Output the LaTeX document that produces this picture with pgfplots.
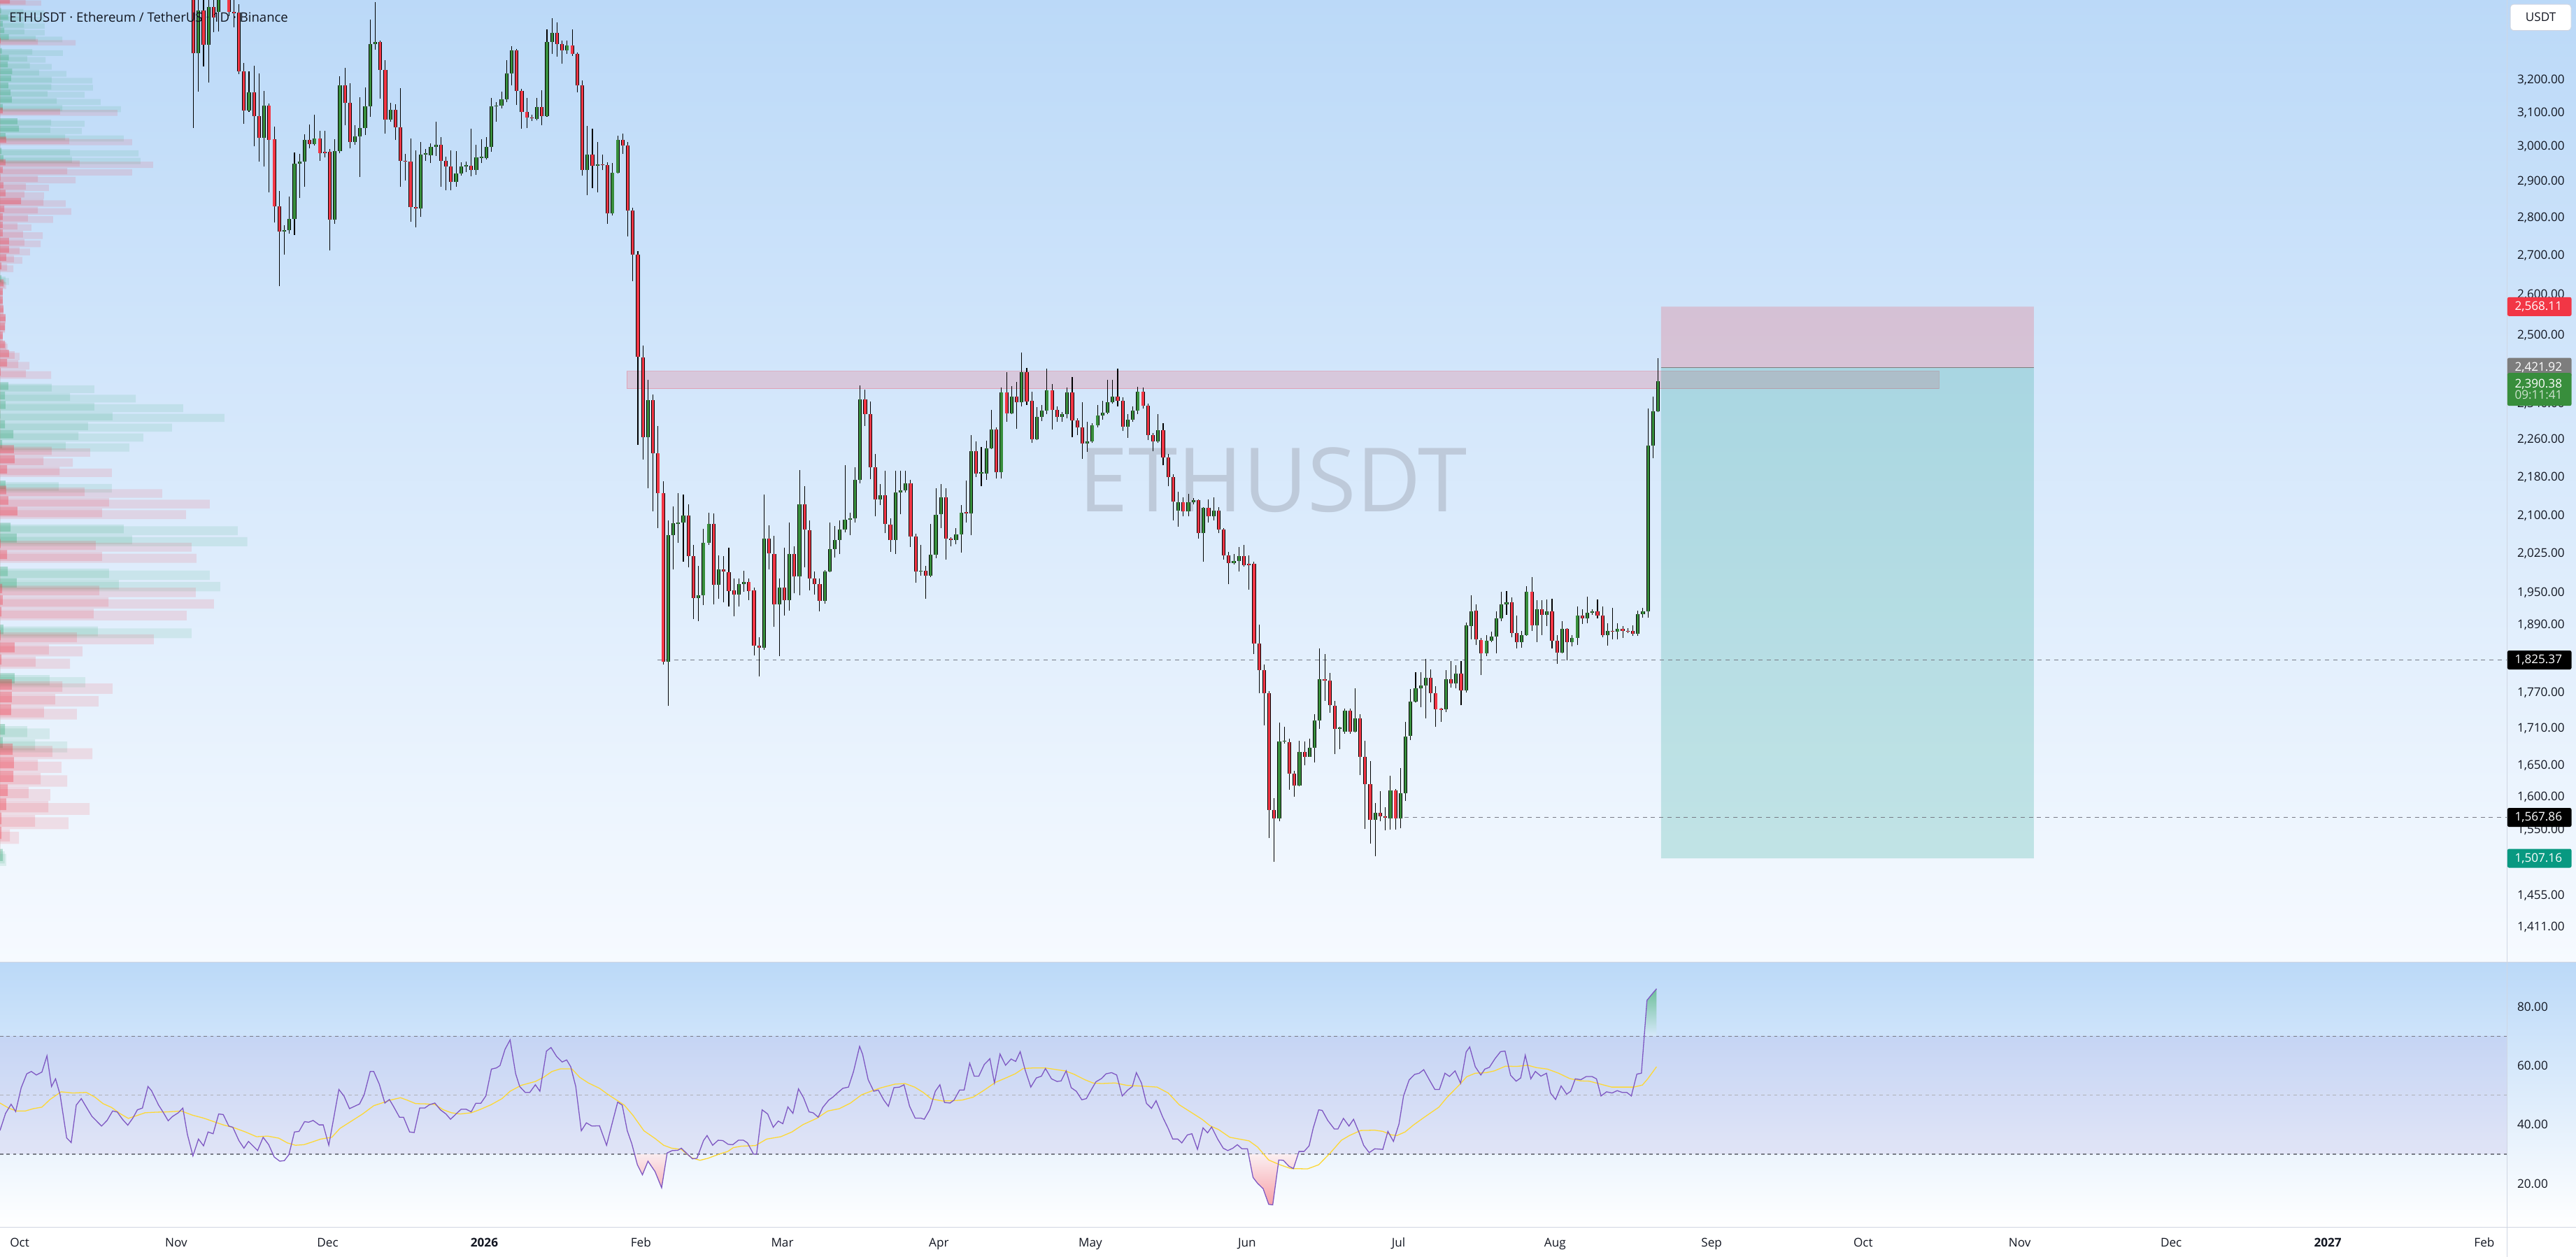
\documentclass[border=0pt]{standalone}
\usepackage{fontspec}
\setmainfont{Open Sans}
\usepackage{pgfplots}
\usepackage{pgfplotstable}
\pgfplotsset{compat=1.18}

\definecolor{tvred}{RGB}{242,54,69}
\definecolor{tvgreen}{RGB}{56,142,60}
\definecolor{tvteal}{RGB}{8,153,129}
\definecolor{vpgreen}{RGB}{60,170,120}
\definecolor{tvpurple}{RGB}{126,87,194}
\definecolor{tvyellow}{RGB}{253,216,53}
\definecolor{tvgrey}{RGB}{120,123,134}
\definecolor{tvtext}{RGB}{19,23,34}
\definecolor{bgtop}{RGB}{187,217,248}
\definecolor{bgbot}{RGB}{246,250,255}
\definecolor{sepline}{RGB}{208,214,226}
\definecolor{wmk}{RGB}{190,202,218}
\definecolor{entrygrey}{RGB}{125,125,125}

\newcommand\lbl{\fontsize{7.3}{8.5}\selectfont}

% candles: day (0 = 1 Oct 2025), open, high, low, close
\pgfplotstableread{
d o h l c
35 3280 3460 3161 3418
37 3308 3460 3189 3430
39 3414 3520 3351 3480
45 3105 3223 3100 3160
48 3023 3163 2940 3118
52 2761 2779 2700 2765
53 2765 2856 2755 2796
54 2796 2981 2753 2948
55 2948 2977 2853 2955
56 2955 3034 2884 3017
58 3005 3092 3000 3021
62 2793 3020 2782 2985
63 2985 3208 2978 3181
66 3012 3060 3003 3028
67 3028 3144 2911 3051
68 3051 3173 3032 3117
69 3117 3389 3085 3310
70 3310 3446 3291 3317
73 3076 3128 3070 3106
79 2823 3011 2800 2975
80 2975 2990 2957 2979
81 2973 3007 2950 2997
82 2997 3071 2971 3003
86 2897 2985 2884 2921
87 2921 2953 2915 2941
88 2940 2955 2925 2944
90 2931 3002 2917 2966
91 2964 3020 2950 2968
92 2964 3025 2960 2996
93 2996 3142 2983 3117
94 3116 3130 3070 3119
95 3119 3161 3111 3138
96 3138 3258 3130 3218
97 3218 3303 3180 3290
102 3079 3142 3075 3115
104 3087 3358 3085 3317
105 3317 3393 3278 3346
108 3290 3320 3278 3305
112 2931 3059 2860 2974
114 2943 3010 2868 2947
117 2811 2950 2805 2923
118 2923 3030 2920 3017
124 2264 2393 2155 2346
128 1823 2089 1746 2059
129 2059 2118 1992 2083
130 2082 2145 2044 2085
131 2085 2142 2007 2099
134 1938 2000 1896 1944
135 1944 2073 1925 2044
136 2044 2104 2040 2082
138 1963 2020 1937 1993
142 1945 1975 1922 1965
143 1965 1990 1950 1968
147 1848 2142 1844 2053
150 1926 1975 1833 1958
152 1935 2085 1915 2023
154 1979 2193 1944 2122
159 1933 1991 1927 1989
160 1989 2085 1987 2032
161 2032 2078 2015 2050
162 2050 2089 2022 2070
163 2070 2204 2065 2090
164 2090 2104 2059 2093
165 2093 2199 2085 2173
166 2173 2380 2165 2348
170 2132 2163 2120 2141
173 2050 2192 2022 2146
174 2146 2192 2101 2151
175 2151 2192 2146 2165
178 1988 2041 1980 1990
180 1981 2082 1978 2021
181 2021 2155 2014 2101
182 2101 2163 2074 2136
185 2050 2074 2041 2061
186 2061 2120 2025 2105
188 2103 2269 2059 2234
190 2186 2243 2159 2188
191 2186 2256 2173 2240
192 2240 2324 2238 2281
194 2188 2375 2175 2364
196 2317 2379 2315 2354
198 2341 2456 2332 2410
201 2260 2330 2257 2309
202 2309 2336 2300 2322
203 2322 2419 2315 2368
206 2309 2319 2298 2315
207 2315 2375 2306 2364
211 2250 2298 2232 2254
212 2254 2294 2251 2290
213 2290 2336 2286 2311
214 2311 2344 2302 2318
215 2318 2393 2315 2341
216 2341 2393 2338 2354
219 2287 2315 2263 2303
220 2303 2332 2298 2322
221 2322 2377 2315 2366
225 2254 2315 2251 2279
229 2109 2148 2076 2126
231 2107 2143 2097 2126
232 2126 2134 2122 2130
234 2063 2116 2007 2114
236 2097 2136 2089 2109
240 2005 2022 2002 2009
241 2009 2037 1989 2018
249 1566 1718 1562 1687
250 1687 1711 1684 1689
253 1617 1689 1616 1670
255 1663 1692 1662 1677
256 1677 1733 1654 1722
257 1722 1846 1708 1792
261 1708 1711 1675 1710
262 1703 1742 1700 1738
264 1703 1776 1702 1725
268 1564 1590 1510 1575
271 1567 1633 1550 1609
273 1567 1645 1552 1605
274 1605 1720 1593 1696
275 1696 1775 1690 1754
276 1754 1804 1752 1776
277 1776 1804 1744 1781
278 1781 1828 1726 1794
282 1741 1808 1736 1792
284 1784 1817 1776 1802
286 1773 1893 1769 1887
287 1887 1943 1862 1914
290 1837 1870 1833 1860
291 1860 1876 1858 1867
292 1867 1914 1838 1900
293 1900 1950 1895 1926
294 1926 1952 1907 1930
297 1857 1878 1848 1870
298 1870 1961 1869 1950
300 1888 1935 1858 1917
302 1907 1935 1887 1914
305 1839 1895 1838 1881
307 1857 1870 1850 1865
308 1865 1923 1852 1906
310 1900 1941 1892 1911
311 1911 1917 1907 1913
314 1870 1892 1851 1878
316 1876 1892 1863 1881
320 1872 1915 1868 1908
321 1908 1920 1902 1914
322 1914 2328 1902 2246
323 2246 2355 2218 2321
324 2321 2443 2319 2390.38
}\upC

\pgfplotstableread{
d o h l c
34 3500 3550 3052 3280
36 3418 3460 3239 3308
38 3430 3470 3349 3395
41 3500 3540 3400 3414
42 3414 3470 3363 3410
43 3412 3440 3215 3224
44 3224 3250 3064 3105
46 3160 3242 2998 3087
47 3087 3217 2955 3023
49 3118 3125 2868 3018
50 3018 3055 2785 2829
51 2829 2872 2619 2761
57 3017 3063 2993 3005
59 3021 3043 2957 2979
60 2983 3043 2967 2979
61 2982 2990 2712 2793
64 3181 3234 3060 3127
65 3127 3186 2992 3012
71 3317 3320 3140 3229
72 3229 3258 3036 3076
74 3106 3122 3016 3054
75 3054 3172 2883 2957
76 2957 2977 2900 2954
77 2955 3021 2787 2827
78 2827 2986 2773 2823
83 3003 3025 2884 2957
84 2957 2969 2874 2941
85 2941 2986 2874 2897
89 2942 3050 2913 2931
98 3290 3295 3120 3163
99 3163 3170 3050 3099
100 3099 3142 3051 3082
101 3083 3092 3073 3080
103 3115 3165 3060 3087
106 3346 3380 3270 3310
107 3310 3322 3247 3290
109 3305 3358 3272 3278
110 3278 3282 3159 3181
111 3181 3195 2914 2931
113 2974 3050 2880 2943
115 2946 2974 2930 2944
116 2944 2953 2782 2811
119 3017 3035 2977 3001
120 3001 3010 2749 2817
121 2817 2825 2632 2701
122 2701 2710 2247 2446
123 2446 2474 2216 2264
125 2346 2360 2108 2229
126 2229 2289 2074 2145
127 2145 2170 1818 1823
132 2099 2122 1997 2018
133 2018 2040 1899 1938
137 2082 2104 1926 1963
139 1993 2018 1930 1988
140 1987 2035 1922 1952
141 1952 1975 1904 1945
144 1968 1975 1935 1952
145 1953 1958 1834 1851
146 1851 1866 1797 1848
148 2053 2080 1992 2023
149 2023 2059 1885 1926
151 1958 2035 1906 1935
153 2023 2037 1947 1979
155 2122 2159 1997 2070
156 2070 2089 1953 1975
157 1975 1989 1945 1965
158 1965 1975 1914 1933
167 2348 2370 2289 2315
168 2315 2344 2174 2199
169 2199 2228 2097 2132
171 2141 2192 2063 2082
172 2080 2093 2026 2050
176 2165 2173 2036 2057
177 2057 2063 1967 1988
179 1990 2000 1937 1981
183 2136 2155 2011 2053
184 2053 2056 2037 2050
187 2106 2171 2085 2103
189 2234 2254 2178 2186
193 2281 2286 2175 2188
195 2364 2410 2298 2317
197 2354 2388 2283 2341
199 2410 2421 2336 2344
200 2345 2366 2251 2260
204 2368 2384 2281 2325
205 2325 2332 2297 2309
208 2364 2400 2264 2301
209 2301 2306 2269 2285
210 2285 2341 2217 2250
217 2354 2419 2332 2345
218 2345 2353 2277 2287
222 2366 2375 2327 2334
223 2334 2338 2257 2269
224 2269 2273 2233 2254
226 2279 2294 2204 2220
227 2220 2228 2159 2178
228 2178 2184 2089 2127
230 2126 2136 2097 2107
233 2130 2132 2053 2063
235 2114 2132 2085 2097
237 2109 2116 2063 2070
238 2070 2074 2011 2020
239 2020 2026 1964 2005
242 2018 2041 1998 2001
243 2003 2019 1954 2000
244 2003 2008 1836 1855
245 1855 1889 1768 1808
246 1808 1817 1714 1768
247 1768 1771 1537 1579
248 1579 1598 1502 1566
251 1686 1692 1611 1636
252 1636 1640 1600 1617
254 1670 1687 1649 1663
258 1792 1836 1755 1789
259 1789 1803 1735 1747
260 1747 1755 1667 1708
263 1738 1742 1700 1703
265 1725 1733 1633 1663
266 1663 1688 1551 1619
267 1619 1656 1529 1564
269 1575 1608 1562 1570
270 1570 1584 1549 1568
272 1609 1612 1550 1567
279 1794 1809 1752 1768
280 1768 1780 1711 1741
281 1742 1743 1720 1740
283 1792 1824 1778 1784
285 1802 1824 1747 1773
288 1914 1926 1852 1862
289 1861 1865 1799 1837
295 1930 1940 1866 1874
296 1874 1906 1846 1857
299 1950 1978 1878 1888
301 1917 1935 1870 1907
303 1914 1937 1846 1860
304 1860 1870 1819 1839
306 1881 1883 1825 1857
309 1906 1917 1890 1900
312 1913 1935 1900 1906
313 1906 1923 1866 1870
315 1878 1920 1863 1876
317 1881 1887 1865 1878
318 1878 1883 1874 1876
319 1878 1887 1868 1872
}\downC

% visible range volume profile: row lower bound, green row?, three segment lengths (pt)
\pgfplotstableread{
p g a b c
1503.2 1 1.7 2.8 3.8
1524.8 0 0.9 6.0 11.5
1546.5 0 0.9 21.3 41.7
1568.2 0 3.8 29.4 54.5
1589.8 0 4.7 17.4 30.6
1611.5 0 8.1 24.7 40.9
1633.2 0 8.5 23.0 37.4
1654.8 0 7.7 31.9 56.2
1676.5 1 1.7 21.3 40.9
1698.1 1 3.0 16.6 30.2
1719.8 0 6.8 26.8 46.8
1741.5 0 7.2 33.6 60.0
1763.1 0 7.2 37.9 68.5
1784.8 1 8.9 30.2 51.9
1806.4 0 0.9 21.7 42.6
1828.1 0 8.9 29.8 50.2
1849.8 0 0.4 46.8 93.6
1871.4 1 2.1 59.6 116.6
1893.1 0 0.9 57.0 113.6
1914.7 0 1.7 66.0 130.2
1936.4 0 1.3 60.4 119.1
1958.1 1 10.2 72.3 134.0
1979.7 1 4.7 66.4 127.7
2001.4 0 4.3 62.1 119.6
2023.0 0 0.4 58.3 116.6
2044.7 1 10.2 80.4 150.6
2066.4 1 6.4 75.3 144.7
2088.0 0 10.6 62.1 113.2
2109.7 0 5.1 66.4 127.7
2131.3 0 3.8 51.5 98.7
2153.0 1 3.4 35.7 68.1
2174.7 0 4.3 36.2 68.1
2196.3 0 8.9 26.4 44.3
2218.0 0 8.5 31.5 54.9
2239.6 1 1.3 40.0 78.7
2261.3 1 8.1 47.7 87.2
2283.0 1 3.0 53.6 104.7
2304.6 1 0.3 68.5 136.6
2326.3 1 3.4 57.4 111.5
2347.9 1 3.0 42.6 82.6
2369.6 1 5.1 31.5 57.4
2391.3 0 0.4 15.7 31.1
2412.9 0 4.3 11.1 17.9
2434.6 0 5.5 8.9 11.9
2456.2 0 3.0 3.8 4.7
2477.9 0 1.7 1.7 1.7
2499.6 0 3.0 3.0 3.0
2521.2 0 3.4 3.4 3.4
2542.9 0 2.1 2.1 2.1
2564.5 0 1.7 1.7 1.7
2586.2 0 1.7 1.7 1.7
2607.9 0 2.1 2.8 3.8
2629.5 1 0.9 3.4 5.5
2651.2 0 0.9 4.3 8.1
2672.8 0 3.8 8.5 13.6
2694.5 0 5.5 11.9 18.3
2716.2 0 5.5 14.9 24.7
2737.8 0 1.7 14.0 26.0
2759.5 0 1.7 10.6 19.1
2781.1 0 1.7 17.0 32.3
2802.8 0 2.6 23.0 43.4
2824.5 0 12.8 26.4 40.0
2846.1 0 3.4 14.9 26.8
2867.8 0 2.1 15.7 29.8
2889.4 0 0.3 23.0 46.0
2911.1 0 1.7 40.9 80.4
2932.8 0 3.4 48.5 93.2
2954.4 1 2.1 43.8 85.5
2976.1 1 0.9 42.6 84.3
2997.7 0 3.8 42.1 80.4
3019.4 1 3.4 39.6 75.3
3041.1 1 11.5 30.6 49.8
3062.7 1 10.6 31.1 51.5
3084.4 0 1.7 36.6 71.5
3106.0 1 1.7 37.9 73.6
3127.7 1 7.2 34.5 61.3
3149.4 1 6.4 28.9 51.5
3171.0 1 5.1 31.2 56.6
3192.7 1 6.8 31.5 56.2
3214.3 1 7.4 23.8 40.4
3236.0 1 4.7 18.2 31.5
3257.7 1 5.4 16.6 27.7
3279.3 1 1.1 19.6 38.3
3301.0 0 0.4 23.0 46.0
3322.6 1 5.4 21.7 37.9
3344.3 1 2.6 14.9 27.2
3366.0 1 1.7 14.6 27.2
3387.6 1 5.0 14.2 27.0
3409.3 1 0.7 14.2 27.0
3430.9 0 6.0 15.6 25.1
3452.6 0 0 0 0
}\vprof

% drawn rectangles on the price pane: day, price
\pgfplotstableread{
x p
119.8 2372
379.6 2372
379.6 2413
119.8 2413
119.8 2372
}\zone
\pgfplotstableread{
x p
324.6 2421.92
398.4 2421.92
398.4 2568.11
324.6 2568.11
324.6 2421.92
}\stopbox
\pgfplotstableread{
x p
324.6 1507.16
398.4 1507.16
398.4 2421.92
324.6 2421.92
324.6 1507.16
}\targetbox

\begin{document}
\begin{tikzpicture}[x=1pt,y=1pt]
\shade[top color=bgtop, bottom color=bgbot] (0,179.5) rectangle (1568,765);
\shade[top color=bgtop, bottom color=white] (0,18) rectangle (1568,179.5);
\fill[white] (0,0) rectangle (1568,18);
\node[text=wmk, font=\fontsize{54}{54}\selectfont] at (775,473) {ETHUSDT};

% volume profile (price axis in log space: ln 1364.6 .. ln 3453.5)
\begin{axis}[at={(0pt,180pt)}, anchor=south west, scale only axis,
  width=1526pt, height=585pt, xmin=0, xmax=1526,
  ymin=7.21861, ymax=8.14714, hide axis,
  xbar interval, /pgf/bar interval width=0.82, enlargelimits=false]
  \addplot[draw=none, fill=vpgreen, fill opacity=0.125] table[x expr=\thisrow{c}*\thisrow{g}, y expr=ln(\thisrow{p})] {\vprof};
  \addplot[draw=none, fill=vpgreen, fill opacity=0.15] table[x expr=\thisrow{b}*\thisrow{g}, y expr=ln(\thisrow{p})] {\vprof};
  \addplot[draw=none, fill=vpgreen, fill opacity=0.34] table[x expr=\thisrow{a}*\thisrow{g}, y expr=ln(\thisrow{p})] {\vprof};
  \addplot[draw=none, fill=tvred, fill opacity=0.125] table[x expr=\thisrow{c}*(1-\thisrow{g}), y expr=ln(\thisrow{p})] {\vprof};
  \addplot[draw=none, fill=tvred, fill opacity=0.15] table[x expr=\thisrow{b}*(1-\thisrow{g}), y expr=ln(\thisrow{p})] {\vprof};
  \addplot[draw=none, fill=tvred, fill opacity=0.34] table[x expr=\thisrow{a}*(1-\thisrow{g}), y expr=ln(\thisrow{p})] {\vprof};
\end{axis}

% price pane (log price: ticks at ln of the labelled prices)
\begin{axis}[at={(0pt,180pt)}, anchor=south west, scale only axis,
  width=1526pt, height=585pt, xmin=-4.3, xmax=492.1,
  ymin=7.21861, ymax=8.14714,
  axis line style={draw=none}, major tick length=0pt,
  xtick=\empty,
  ytick={7.252053,7.282760,7.346010,7.377759,7.408530,7.444248,7.478735,7.544332,7.575584,7.613325,7.649692,7.687080,7.723120,7.757906,7.824046,7.863266,7.901007,7.937374,7.972466,8.006368,8.039157,8.070906},
  yticklabels={{1,411.00},{1,455.00},{1,550.00},{1,600.00},{1,650.00},{1,710.00},{1,770.00},{1,890.00},{1,950.00},{2,025.00},{2,100.00},{2,180.00},{2,260.00},{2,340.00},{2,500.00},{2,600.00},{2,700.00},{2,800.00},{2,900.00},{3,000.00},{3,100.00},{3,200.00}},
  yticklabel pos=right,
  yticklabel style={anchor=mid west, inner sep=0pt, xshift=6pt, font=\lbl, text=tvtext}]
  % resistance zone
  \addplot[fill=tvred, fill opacity=0.17, draw=tvred, draw opacity=0.25, line width=0.4pt]
    table[x=x, y expr=ln(\thisrow{p})] {\zone};
  % short position: stop and target
  \addplot[fill=tvred, fill opacity=0.2, draw=none] table[x=x, y expr=ln(\thisrow{p})] {\stopbox};
  \addplot[fill=tvteal, fill opacity=0.2, draw=none] table[x=x, y expr=ln(\thisrow{p})] {\targetbox};
  \addplot[entrygrey, line width=0.5pt] table[row sep=\\, x=x, y expr=ln(\thisrow{p})] {x p\\ 324.6 2421.92\\ 398.4 2421.92\\};
  % levels
  \addplot[tvgrey, line width=0.5pt, dash pattern=on 2.5pt off 2.5pt] table[row sep=\\, x=x, y expr=ln(\thisrow{p})] {x p\\ 125.9 1825.37\\ 492.1 1825.37\\};
  \addplot[tvgrey, line width=0.5pt, dash pattern=on 2.5pt off 2.5pt] table[row sep=\\, x=x, y expr=ln(\thisrow{p})] {x p\\ 273.8 1567.86\\ 492.1 1567.86\\};
  % wicks
  \addplot[draw=none, mark=none, error bars/.cd, y dir=plus, y explicit, error mark=none,
    error bar style={draw=black, line width=0.45pt}]
    table[x=d, y expr=ln(\thisrow{l}), y error expr=ln(\thisrow{h}/\thisrow{l})] {\upC};
  \addplot[draw=none, mark=none, error bars/.cd, y dir=plus, y explicit, error mark=none,
    error bar style={draw=black, line width=0.45pt}]
    table[x=d, y expr=ln(\thisrow{l}), y error expr=ln(\thisrow{h}/\thisrow{l})] {\downC};
  % bodies
  \addplot[draw=none, mark=none, error bars/.cd, y dir=plus, y explicit, error mark=none,
    error bar style={draw=black, line width=2.2pt}]
    table[x=d, y expr=ln(\thisrow{o}), y error expr=ln(\thisrow{c}/\thisrow{o})] {\upC};
  \addplot[draw=none, mark=none, error bars/.cd, y dir=plus, y explicit, error mark=none,
    error bar style={draw=tvgreen, line width=1.4pt}]
    table[x=d, y expr=ln(\thisrow{o}), y error expr=ln(\thisrow{c}/\thisrow{o})] {\upC};
  \addplot[draw=none, mark=none, error bars/.cd, y dir=plus, y explicit, error mark=none,
    error bar style={draw=black, line width=2.2pt}]
    table[x=d, y expr=ln(\thisrow{c}), y error expr=ln(\thisrow{o}/\thisrow{c})] {\downC};
  \addplot[draw=none, mark=none, error bars/.cd, y dir=plus, y explicit, error mark=none,
    error bar style={draw=tvred, line width=1.4pt}]
    table[x=d, y expr=ln(\thisrow{c}), y error expr=ln(\thisrow{o}/\thisrow{c})] {\downC};
  % anchors for the price tags (ln of 2568.11, 2421.92, 2390.38, 1825.37, 1567.86, 1507.16)
  \coordinate (pSL) at (axis cs:492.1,7.850925);
  \coordinate (pEN) at (axis cs:492.1,7.792316);
  \coordinate (pLC) at (axis cs:492.1,7.779208);
  \coordinate (pL1) at (axis cs:492.1,7.509538);
  \coordinate (pL2) at (axis cs:492.1,7.357467);
  \coordinate (pTP) at (axis cs:492.1,7.317982);
\end{axis}

% RSI pane
\begin{axis}[at={(0pt,18pt)}, anchor=south west, scale only axis,
  width=1526pt, height=161pt, xmin=-4.3, xmax=492.1, ymin=5.2, ymax=94.8,
  axis line style={draw=none}, major tick length=0pt,
  ytick={20,40,60,80}, yticklabels={20.00,40.00,60.00,80.00},
  yticklabel pos=right,
  yticklabel style={anchor=mid west, inner sep=0pt, xshift=6pt, font=\lbl, text=tvtext},
  xtick={-0.4,30.6,60.6,91.6,122.6,150.6,181.6,211.6,242.6,272.6,303.6,334.6,364.6,395.6,425.6,456.6,487.6},
  xticklabels={Oct,Nov,Dec,\textbf{2026},Feb,Mar,Apr,May,Jun,Jul,Aug,Sep,Oct,Nov,Dec,\textbf{2027},Feb},
  xticklabel style={anchor=base, inner sep=0pt, yshift=-11.8pt, font=\lbl, text=tvtext}]
  \addplot[fill=tvpurple, fill opacity=0.1, draw=none]
    coordinates {(-4.3,30) (492.1,30) (492.1,70) (-4.3,70) (-4.3,30)};
  \addplot[tvgrey, line width=0.5pt, dash pattern=on 2pt off 2pt] coordinates {(-4.3,70) (492.1,70)};
  \addplot[tvgrey!60, line width=0.5pt, dash pattern=on 2pt off 2pt] coordinates {(-4.3,50) (492.1,50)};
  \addplot[tvgrey, line width=0.5pt, dash pattern=on 2pt off 2pt] coordinates {(-4.3,30) (492.1,30)};
  % oversold / overbought fills
  \addplot[draw=none, top color=white!90!tvred, bottom color=white!55!tvred, opacity=0.8]
    coordinates {(121.3,30) (121.9,26.4) (122.9,23.0) (124.0,27.6) (125.4,24.1) (126.7,18.6) (127.7,30) (121.3,30)};
  \addplot[draw=none, top color=white!92!tvred, bottom color=white!45!tvred, opacity=0.85]
    coordinates {(242.9,30) (243.8,22.1) (244.7,20.1) (245.8,18.3) (246.9,13.0) (247.7,12.8) (248.9,28.0) (249.8,27.9) (250.9,25.9) (251.8,25.1) (252.8,30) (242.9,30)};
  \addplot[draw=none, top color=vpgreen!75, bottom color=bgtop!60!white]
    coordinates {(321.3,70) (321.8,82.1) (322.9,84.4) (323.7,86.0) (323.7,70) (321.3,70)};
  % RSI-based moving average
  \addplot[tvyellow, line width=0.55pt] coordinates {
    (-4.3,47.3) (-2.6,45.6) (-1.0,44.6) (0.7,44.6) (2.3,45.4) (4.0,45.9) (5.6,48.5) (7.8,51.1)
    (10.1,50.7) (12.8,50.9) (14.5,49.3) (16.1,47.1) (17.8,45.8) (19.4,43.8) (21.1,42.1) (22.7,43.0)
    (24.4,44.0) (26.6,44.2) (28.8,44.3) (31.6,44.6) (33.8,43.2) (36.0,42.2) (38.2,40.9) (39.9,39.9)
    (42.1,38.9) (44.3,37.5) (46.5,35.9) (48.7,36.1) (50.9,35.4) (52.6,33.8) (54.2,33.0) (55.9,33.2)
    (57.5,34.1) (59.2,35.1) (61.4,35.7) (63.0,38.7) (65.3,41.2) (67.5,43.6) (69.7,46.4) (71.3,47.3)
    (73.0,48.3) (75.0,49.1) (76.3,48.3) (78.0,47.1) (80.2,47.0) (81.8,46.8) (83.5,45.0) (85.1,44.0)
    (86.8,43.6) (89.0,44.0) (90.6,45.0) (92.9,46.7) (95.1,48.8) (96.7,51.3) (98.9,53.3) (101.7,54.6)
    (103.3,56.0) (105.0,58.0) (106.7,58.9) (108.9,58.9) (110.5,56.0) (112.2,54.1) (114.4,52.3)
    (116.0,50.3) (117.7,48.4) (119.3,46.6) (121.0,43.2) (123.2,37.9) (125.4,35.3) (127.1,33.0)
    (128.7,32.0) (130.6,31.6) (132.6,28.8) (134.3,27.9) (135.9,28.6) (138.1,30.0) (139.8,30.9)
    (140.9,32.2) (142.5,32.7) (145.3,32.9) (147.5,35.1) (150.3,35.9) (152.5,37.5) (154.7,40.0)
    (157.4,42.1) (159.6,44.6) (161.9,45.4) (164.1,47.3) (166.3,50.1) (168.8,51.7) (170.2,52.5)
    (172.9,53.7) (174.9,53.9) (176.8,52.7) (178.5,50.9) (180.1,48.7) (182.3,48.0) (184.5,48.1)
    (186.2,48.3) (188.4,49.3) (190.6,51.7) (192.8,54.3) (195.0,55.9) (196.7,57.2) (198.3,59.0)
    (200.5,59.2) (202.7,59.2) (204.9,58.6) (206.6,58.2) (208.3,57.1) (210.5,55.2) (212.1,54.1)
    (213.8,53.9) (216.5,54.1) (218.8,53.3) (222.1,53.0) (224.8,52.7) (227.0,50.7) (229.2,46.7)
    (231.5,44.2) (233.7,41.8) (235.3,39.6) (237.0,38.3) (239.2,35.7) (241.4,35.0) (243.0,34.5)
    (244.7,32.4) (246.9,28.0) (249.1,26.4) (251.3,25.1) (254.6,25.0) (256.8,26.4) (259.1,30.4)
    (261.3,34.7) (262.9,36.3) (265.1,38.0) (267.9,38.1) (269.5,37.7) (271.2,36.5) (272.3,36.3)
    (273.9,37.5) (275.6,39.9) (277.8,42.6) (280.6,45.9) (282.2,49.2) (284.4,53.0) (286.1,56.2)
    (287.8,57.4) (290.0,57.6) (291.6,58.2) (293.8,59.8) (296.0,59.7) (298.2,60.1) (299.9,59.3)
    (302.1,58.8) (304.3,57.4) (306.5,55.6) (308.7,54.8) (310.4,54.7) (312.6,53.7) (314.8,52.7)
    (317.6,52.7) (319.2,52.7) (320.9,53.4) (322.0,55.6) (323.7,59.6)};
  % RSI
  \addplot[tvpurple, line width=0.55pt] coordinates {
    (-4.3,38.0) (-3.2,43.8) (-2.1,46.9) (-1.2,44.4) (-0.1,52.5) (1.0,57.2) (1.9,58.0) (2.9,56.8)
    (4.0,57.8) (5.0,63.3) (5.9,52.9) (6.7,55.5) (7.6,50.1) (8.9,35.5) (9.8,33.9) (10.8,46.6)
    (11.8,48.8) (12.8,45.9) (13.9,42.8) (15.8,39.5) (16.9,41.4) (18.0,44.6) (18.9,44.3) (20.0,41.7)
    (21.0,39.8) (22.0,42.2) (22.9,45.0) (23.9,45.6) (25.0,52.9) (25.7,51.5) (27.1,46.6) (28.0,44.2)
    (29.0,41.3) (29.9,42.8) (31.0,44.0) (31.9,45.6) (32.8,36.7) (33.9,29.4) (35.0,35.1) (36.0,32.8)
    (36.9,37.5) (37.9,36.9) (39.0,43.6) (39.9,43.4) (41.0,39.5) (41.8,39.1) (43.0,34.6) (44.0,32.0)
    (44.9,34.3) (46.7,31.2) (47.8,35.7) (48.9,33.2) (50.0,29.0) (51.1,27.6) (52.0,27.8) (52.9,29.8)
    (54.0,37.5) (54.9,37.7) (56.0,41.0) (56.8,40.8) (57.7,41.4) (58.9,39.9) (59.7,39.9) (60.8,33.0)
    (62.8,51.9) (63.8,49.7) (64.9,45.4) (65.9,46.2) (66.9,47.0) (67.8,50.1) (69.0,58.0) (69.7,58.0)
    (70.8,53.7) (71.9,47.3) (72.8,48.5) (73.6,46.2) (74.8,42.5) (75.6,42.5) (76.8,37.5) (77.7,37.3)
    (78.8,45.6) (79.8,45.6) (80.7,46.7) (81.8,47.3) (82.9,45.0) (84.0,43.6) (84.9,41.8) (86.0,43.6)
    (87.0,45.2) (88.0,45.2) (89.0,44.3) (89.9,47.2) (90.9,47.2) (91.9,49.7) (93.0,58.8) (94.0,59.2)
    (94.7,60.0) (95.7,65.5) (96.7,68.7) (97.8,57.2) (98.6,52.9) (99.7,50.9) (100.6,50.9) (101.7,53.5)
    (102.6,51.3) (103.9,64.9) (104.8,66.1) (105.9,63.1) (107.0,61.2) (107.9,61.9) (108.7,59.6)
    (109.7,52.9) (110.8,37.9) (111.8,40.6) (112.9,39.5) (114.4,39.6) (115.8,33.0) (117.1,41.7)
    (118.0,47.6) (118.9,46.6) (119.9,37.9) (120.8,33.5) (121.9,26.4) (122.9,23.0) (124.0,27.6)
    (125.4,24.1) (126.7,18.6) (127.8,30.4) (128.8,31.2) (129.9,31.3) (130.6,32.0) (131.7,30.2)
    (132.8,28.4) (133.7,28.6) (135.0,34.6) (135.7,36.3) (136.8,33.0) (137.9,34.7) (138.8,34.6)
    (139.9,33.3) (140.8,33.2) (141.9,34.7) (142.9,34.7) (143.7,33.8) (144.9,30.0) (145.5,30.0)
    (146.6,45.0) (147.7,43.6) (148.8,39.1) (149.8,41.2) (150.7,40.3) (151.7,46.0) (152.7,43.8)
    (153.8,52.1) (154.8,49.1) (155.9,44.3) (156.7,44.0) (157.7,42.5) (158.6,45.8) (159.8,48.3)
    (160.6,49.3) (161.5,50.7) (162.6,52.3) (163.7,52.7) (164.7,58.0) (165.9,66.5) (166.5,63.8)
    (167.6,55.2) (168.7,51.3) (169.6,51.7) (170.7,48.3) (171.6,46.2) (172.7,52.5) (173.8,52.7)
    (174.7,53.5) (175.8,46.2) (176.9,42.2) (178.0,42.2) (178.7,41.8) (179.8,45.1) (180.9,51.3)
    (181.8,53.5) (182.7,47.5) (183.8,47.3) (184.6,48.3) (185.7,51.7) (186.6,51.7) (187.7,60.8)
    (188.6,56.4) (189.5,56.4) (190.6,60.4) (191.7,62.3) (192.6,54.1) (193.7,63.9) (194.8,60.1)
    (195.9,62.2) (196.8,61.4) (197.7,64.7) (198.7,58.4) (199.8,52.7) (200.9,55.8) (201.9,56.4)
    (202.7,59.0) (203.9,55.5) (205.0,54.6) (205.8,54.8) (206.8,58.2) (207.8,52.5) (208.8,51.3)
    (209.9,48.4) (210.8,48.8) (211.8,51.9) (212.7,54.5) (213.8,55.6) (214.7,57.2) (215.8,57.6)
    (216.8,56.8) (217.9,49.7) (219.0,51.7) (219.9,52.9) (220.7,57.6) (221.7,54.1) (222.7,47.2)
    (223.7,45.5) (224.6,48.1) (225.9,42.6) (227.0,38.7) (227.9,35.1) (228.9,35.1) (229.7,33.8)
    (230.8,36.5) (231.7,36.9) (232.8,31.6) (233.9,38.9) (234.8,37.2) (235.6,39.2) (236.8,35.1)
    (237.9,32.0) (238.8,31.2) (239.8,32.0) (240.7,33.2) (241.6,31.8) (242.7,31.8) (243.8,22.1)
    (244.7,20.1) (245.8,18.3) (246.9,13.0) (247.7,12.8) (248.9,28.0) (249.8,27.9) (250.9,25.9)
    (251.8,25.1) (252.9,30.9) (253.9,30.9) (254.9,32.8) (255.7,38.7) (256.8,45.0) (257.5,44.8)
    (258.6,41.4) (259.9,38.5) (260.6,38.5) (261.7,42.1) (262.8,39.5) (263.7,41.8) (264.8,37.3)
    (265.7,33.0) (266.8,30.5) (267.9,31.8) (269.5,31.6) (270.5,37.7) (271.6,34.3) (272.7,40.2)
    (273.6,49.7) (274.7,55.1) (275.8,57.0) (276.7,57.4) (277.6,58.6) (278.7,55.2) (279.8,51.9)
    (280.7,51.9) (281.8,57.4) (282.7,56.3) (283.8,58.2) (284.9,54.0) (286.0,64.6) (286.7,66.3)
    (287.8,59.6) (288.9,56.8) (289.7,58.8) (290.6,59.4) (291.7,62.3) (292.8,64.7) (293.7,64.9)
    (294.8,56.7) (295.9,54.7) (296.8,55.8) (297.7,63.5) (298.8,55.5) (299.7,58.0) (300.8,56.4)
    (301.9,57.4) (302.7,50.7) (303.7,48.5) (304.8,53.1) (305.9,50.3) (306.7,51.3) (307.6,55.5)
    (308.7,55.2) (309.8,56.3) (310.9,56.3) (311.8,55.5) (312.7,49.7) (313.8,51.1) (314.9,50.7)
    (315.9,51.5) (316.9,50.9) (317.8,50.9) (318.7,49.7) (319.8,57.1) (320.7,57.4) (321.8,82.1)
    (322.9,84.4) (323.7,86.0)};
\end{axis}

% pane separators
\draw[sepline, line width=0.6pt] (0,179.5) -- (1568,179.5);
\draw[sepline, line width=0.6pt] (0,18) -- (1568,18);
\draw[sepline, line width=0.6pt] (1526,0) -- (1526,765);

% price scale tags
\tikzset{tag/.style={anchor=west, inner xsep=4.5pt, inner ysep=0pt, text width=30pt,
  minimum height=11.5pt, rounded corners=1pt, font=\lbl, text=white}}
\node[tag, fill=tvred] at (pSL) {2,568.11};
\node[tag, fill=entrygrey] at (pEN) {2,421.92};
\node[tag, fill=tvgreen, anchor=north west, minimum height=20pt, align=left,
  inner ysep=1.5pt] at ([yshift=5pt]pLC) {2,390.38\\[-1.8pt]\textcolor{white!75!tvgreen}{09:11:41}};
\node[tag, fill=black] at (pL1) {1,825.37};
\node[tag, fill=black] at (pL2) {1,567.86};
\node[tag, fill=tvteal] at (pTP) {1,507.16};

% header
\node[anchor=west, font=\fontsize{7.9}{9}\selectfont, text=tvtext, inner sep=0pt]
  at (5.5,754.4) {ETHUSDT · Ethereum / TetherUS · 1D · Binance};
\node[draw=sepline, fill=white, rounded corners=2pt, minimum width=37pt, minimum height=16pt,
  inner sep=0pt, font=\lbl, text=tvtext] at (1546.5,754.4) {USDT};

\pgfresetboundingbox
\useasboundingbox (0,0) rectangle (1568,765);
\end{tikzpicture}
\end{document}
